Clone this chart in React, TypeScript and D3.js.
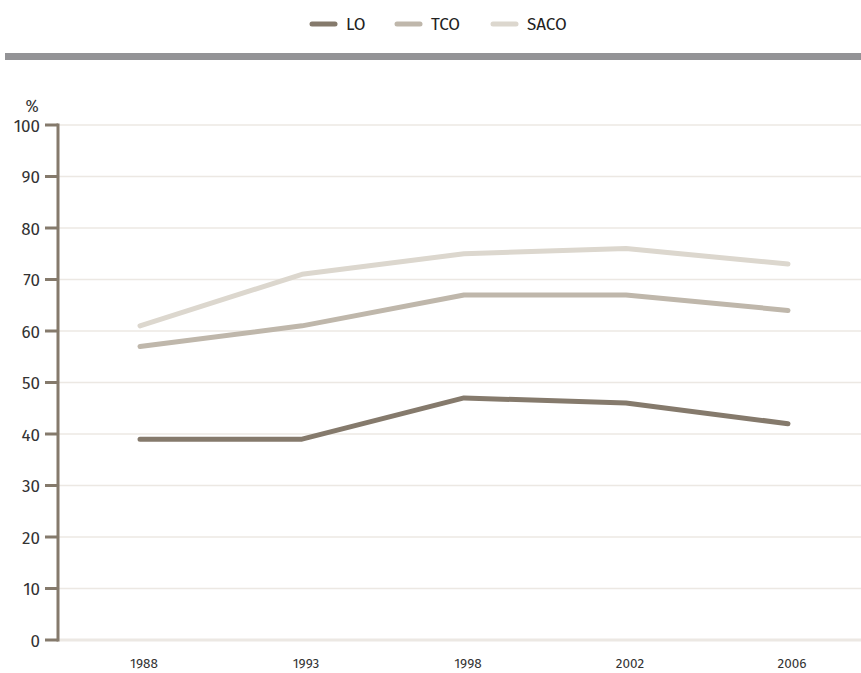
import React from "react";
import * as d3 from "d3";

const years = ["1988", "1993", "1998", "2002", "2006"];
const loValues = [39, 39, 47, 46, 42];
const tcoValues = [57, 61, 67, 67, 64];
const sacoValues = [61, 71, 75, 76, 73];
const yTicks = [0, 10, 20, 30, 40, 50, 60, 70, 80, 90, 100];

const seriesNames = ["LO", "TCO", "SACO"];
const seriesColors = ["#857a6c", "#bfb7ab", "#dcd7ce"];

const W = 861;
const H = 673;
const FONT = "'Fira Sans', 'Open Sans', 'Noto Sans', sans-serif";

export default function App() {
  const x = d3.scalePoint<string>().domain(years).range([140, 788]);
  const y = d3.scaleLinear().domain([0, 100]).range([640, 125]);
  const line = d3
    .line<number>()
    .x((_, i) => x(years[i]) as number)
    .y((d) => y(d));
  const series = [loValues, tcoValues, sacoValues];
  const legendX = [310, 395, 491];

  return (
    <svg
      width={W}
      height={H}
      style={{ position: "absolute", left: 0, top: 0, background: "#fff" }}
      fontFamily={FONT}
    >
      {/* legend */}
      {seriesNames.map((name, i) => (
        <g key={name} transform={`translate(${legendX[i]},24)`}>
          <line x1={2} x2={25} y1={0} y2={0} stroke={seriesColors[i]} strokeWidth={5} strokeLinecap="round" />
          <text x={36} y={6} fontSize={17} fill="#222">
            {name}
          </text>
        </g>
      ))}
      {/* divider band */}
      <rect x={5} y={53} width={W - 5} height={7} fill="#939396" />

      {/* gridlines */}
      {yTicks.map((t) => (
        <line
          key={t}
          x1={58}
          x2={W}
          y1={y(t)}
          y2={y(t)}
          stroke="#ece8e3"
          strokeWidth={t === 0 ? 3 : 1.5}
        />
      ))}

      {/* y axis */}
      <line x1={58} x2={58} y1={y(100) - 1.5} y2={y(0) + 1.5} stroke="#857a6c" strokeWidth={3} />
      {yTicks.map((t) => (
        <g key={t} transform={`translate(0,${y(t)})`}>
          <line x1={45} x2={58} y1={0} y2={0} stroke="#857a6c" strokeWidth={3} />
          <text x={40} y={6.5} textAnchor="end" fontSize={17} fill="#333">
            {t}
          </text>
        </g>
      ))}
      <text x={32} y={112} textAnchor="middle" fontSize={16} fill="#333">
        %
      </text>

      {/* x labels */}
      {years.map((yr) => (
        <text key={yr} x={(x(yr) as number) + 4} y={668} textAnchor="middle" fontSize={13.5} fill="#333">
          {yr}
        </text>
      ))}

      {/* series lines */}
      {series
        .map((vals, i) => ({ vals, i }))
        .reverse()
        .map(({ vals, i }) => (
          <path
            key={seriesNames[i]}
            d={line(vals) as string}
            fill="none"
            stroke={seriesColors[i]}
            strokeWidth={5}
            strokeLinecap="round"
            strokeLinejoin="round"
          />
        ))}
    </svg>
  );
}
